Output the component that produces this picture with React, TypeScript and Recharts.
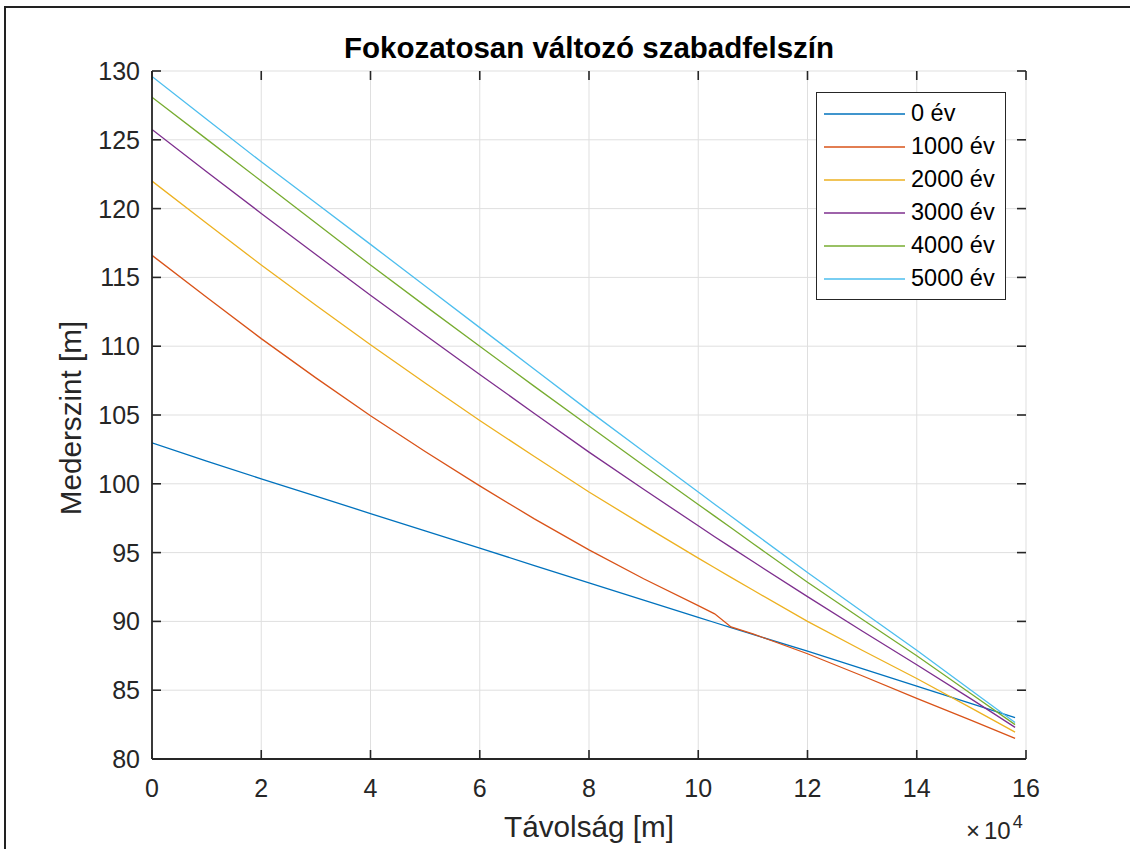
import { CartesianGrid, Legend, Line, LineChart, XAxis, YAxis } from "recharts";

// távolság [m]
const tavolsag = [
  0, 10000, 20000, 30000, 40000, 50000, 60000, 70000, 80000, 90000, 100000, 103000, 106000,
  110000, 120000, 130000, 140000, 150000, 158000,
];

// mederszint [m] az egyes időpontokban
const ev0 = [
  102.98, 101.65, 100.36, 99.1, 97.84, 96.58, 95.32, 94.06, 92.8, 91.55, 90.3, 89.92, 89.55,
  89.05, 87.84, 86.57, 85.3, 84.02, 83.0,
];
const ev1000 = [
  116.6, 113.55, 110.55, 107.7, 104.95, 102.35, 99.85, 97.45, 95.2, 93.1, 91.15, 90.55, 89.6,
  89.1, 87.65, 86.05, 84.4, 82.8, 81.5,
];
const ev2000 = [
  122.0, 118.93, 115.9, 112.98, 110.1, 107.33, 104.6, 101.98, 99.4, 96.98, 94.6, 93.9, 93.2,
  92.28, 90.0, 87.9, 85.85, 83.7, 81.95,
];
const ev3000 = [
  125.75, 122.68, 119.65, 116.66, 113.7, 110.81, 107.95, 105.11, 102.3, 99.6, 96.95, 96.15,
  95.38, 94.35, 91.8, 89.3, 86.85, 84.35, 82.3,
];
const ev4000 = [
  128.1, 125.05, 122.0, 118.95, 115.9, 112.93, 110.0, 107.08, 104.2, 101.33, 98.5, 97.65, 96.8,
  95.66, 92.85, 90.15, 87.5, 84.73, 82.5,
];
const ev5000 = [
  129.6, 126.5, 123.4, 120.4, 117.4, 114.38, 111.35, 108.33, 105.3, 102.35, 99.4, 98.52, 97.64,
  96.47, 93.55, 90.72, 87.9, 84.98, 82.65,
];

const sorozatok = [ev0, ev1000, ev2000, ev3000, ev4000, ev5000];
const nevek = ["0 év", "1000 év", "2000 év", "3000 év", "4000 év", "5000 év"];
const szinek = ["#0072BD", "#D95319", "#EDB120", "#7E2F8E", "#77AC30", "#4DBEEE"];

const xTicks = [0, 20000, 40000, 60000, 80000, 100000, 120000, 140000, 160000];
const yTicks = [80, 85, 90, 95, 100, 105, 110, 115, 120, 125, 130];

const data = tavolsag.map((x, i) => {
  const row: Record<string, number> = { x };
  sorozatok.forEach((s, j) => {
    row[`s${j}`] = s[i];
  });
  return row;
});

const W = 1130;
const H = 849;
const MARGIN = { top: 71, right: 104, bottom: 50, left: 92 };
const Y_AXIS_W = 60;
const X_AXIS_H = 40;
// a rajzterület szélei
const PLOT_TOP = MARGIN.top;
const PLOT_RIGHT = W - MARGIN.right;

const AXIS = "#262626";
const FONT = "'Liberation Sans', Arial, Helvetica, sans-serif";
const TICK_LEN = 9;
const TICK_W = 1.6;

// befelé mutató osztásjelek alul és felül (MATLAB-stílus)
const XTick = ({ x, y, payload }: any) => (
  <g>
    <path d={`M${x},${y}V${y - TICK_LEN}`} stroke={AXIS} strokeWidth={TICK_W} fill="none" />
    <path
      d={`M${x},${PLOT_TOP}V${PLOT_TOP + TICK_LEN}`}
      stroke={AXIS}
      strokeWidth={TICK_W}
      fill="none"
    />
    <text x={x} y={y + 38} textAnchor="middle" fontSize={25} fill={AXIS}>
      {payload.value / 10000}
    </text>
  </g>
);

// befelé mutató osztásjelek bal és jobb oldalon
const YTick = ({ x, y, payload }: any) => (
  <g>
    <path d={`M${x},${y}H${x + TICK_LEN}`} stroke={AXIS} strokeWidth={TICK_W} fill="none" />
    <path
      d={`M${PLOT_RIGHT},${y}H${PLOT_RIGHT - TICK_LEN}`}
      stroke={AXIS}
      strokeWidth={TICK_W}
      fill="none"
    />
    <text x={x - 12} y={y + 9} textAnchor="end" fontSize={25} fill={AXIS}>
      {payload.value}
    </text>
  </g>
);

function Jelmagyarazat({ payload }: any) {
  return (
    <div
      style={{
        border: `1px solid ${AXIS}`,
        background: "#fff",
        padding: "4px 0",
        width: 188,
        fontFamily: FONT,
      }}
    >
      {(payload ?? []).map((p: any) => (
        <div key={p.value} style={{ display: "flex", alignItems: "center", height: 33 }}>
          <svg width={88} height={4} style={{ display: "block" }}>
            <line x1={7} x2={88} y1={2} y2={2} stroke={p.color} strokeWidth={1.4} />
          </svg>
          <span style={{ marginLeft: 6, fontSize: 23.5, color: "#000", lineHeight: 1 }}>
            {p.value}
          </span>
        </div>
      ))}
    </div>
  );
}

export default function App() {
  return (
    <div
      style={{
        position: "absolute",
        left: 0,
        top: 0,
        width: W,
        height: H,
        background: "#fff",
        overflow: "hidden",
        fontFamily: FONT,
        color: AXIS,
      }}
    >
      {/* keret */}
      <div
        style={{
          position: "absolute",
          left: 4,
          top: 6,
          width: 1200,
          height: 900,
          borderTop: "2px solid #222",
          borderLeft: "2px solid #222",
        }}
      />

      <div style={{ position: "absolute", left: 0, top: 0 }}>
        <LineChart width={W} height={H} data={data} margin={MARGIN}>
          <CartesianGrid stroke="#dfdfdf" strokeWidth={1} />
          <XAxis
            dataKey="x"
            type="number"
            domain={[0, 160000]}
            ticks={xTicks}
            height={X_AXIS_H}
            stroke={AXIS}
            strokeWidth={1.8}
            tickLine={false}
            tickSize={0}
            tickMargin={0}
            tick={XTick}
            allowDataOverflow
          />
          <XAxis
            xAxisId="top"
            orientation="top"
            type="number"
            domain={[0, 160000]}
            ticks={xTicks}
            height={0}
            stroke={AXIS}
            strokeWidth={1.8}
            tickLine={false}
            tick={false}
            allowDataOverflow
          />
          <YAxis
            type="number"
            domain={[80, 130]}
            ticks={yTicks}
            width={Y_AXIS_W}
            stroke={AXIS}
            strokeWidth={1.8}
            tickLine={false}
            tickSize={0}
            tickMargin={0}
            tick={YTick}
            allowDataOverflow
          />
          <YAxis
            yAxisId="right"
            orientation="right"
            type="number"
            domain={[80, 130]}
            ticks={yTicks}
            width={0}
            stroke={AXIS}
            strokeWidth={1.8}
            tickLine={false}
            tick={false}
            allowDataOverflow
          />
          <Legend
            layout="vertical"
            align="center"
            verticalAlign="middle"
            content={Jelmagyarazat}
            wrapperStyle={{ left: 816, top: 92, width: 190 }}
          />
          {sorozatok.map((_, j) => (
            <Line
              key={nevek[j]}
              type="linear"
              dataKey={`s${j}`}
              name={nevek[j]}
              stroke={szinek[j]}
              strokeWidth={1.3}
              dot={false}
              activeDot={false}
              isAnimationActive={false}
            />
          ))}
        </LineChart>
      </div>

      {/* cím */}
      <div
        style={{
          position: "absolute",
          left: MARGIN.left + Y_AXIS_W,
          width: PLOT_RIGHT - MARGIN.left - Y_AXIS_W,
          top: 33,
          textAlign: "center",
          fontSize: 29.5,
          fontWeight: "bold",
          lineHeight: 1,
          color: "#000",
          whiteSpace: "nowrap",
        }}
      >
        Fokozatosan változó szabadfelszín
      </div>

      {/* tengelyfeliratok */}
      <div
        style={{
          position: "absolute",
          left: MARGIN.left + Y_AXIS_W,
          width: PLOT_RIGHT - MARGIN.left - Y_AXIS_W,
          top: 812,
          textAlign: "center",
          fontSize: 29.7,
          lineHeight: 1,
          whiteSpace: "nowrap",
        }}
      >
        Távolság [m]
      </div>
      <div
        style={{
          position: "absolute",
          left: 71,
          top: 418,
          transform: "translate(-50%, -50%) rotate(-90deg)",
          fontSize: 29.7,
          lineHeight: 1,
          whiteSpace: "nowrap",
        }}
      >
        Mederszint [m]
      </div>
      <div
        style={{
          position: "absolute",
          left: 966,
          top: 819,
          fontSize: 24,
          lineHeight: 1,
          whiteSpace: "nowrap",
        }}
      >
        ×<span style={{ marginLeft: 4 }}>10</span>
        <span style={{ fontSize: 18, position: "relative", top: -11, marginLeft: 2 }}>4</span>
      </div>
    </div>
  );
}
